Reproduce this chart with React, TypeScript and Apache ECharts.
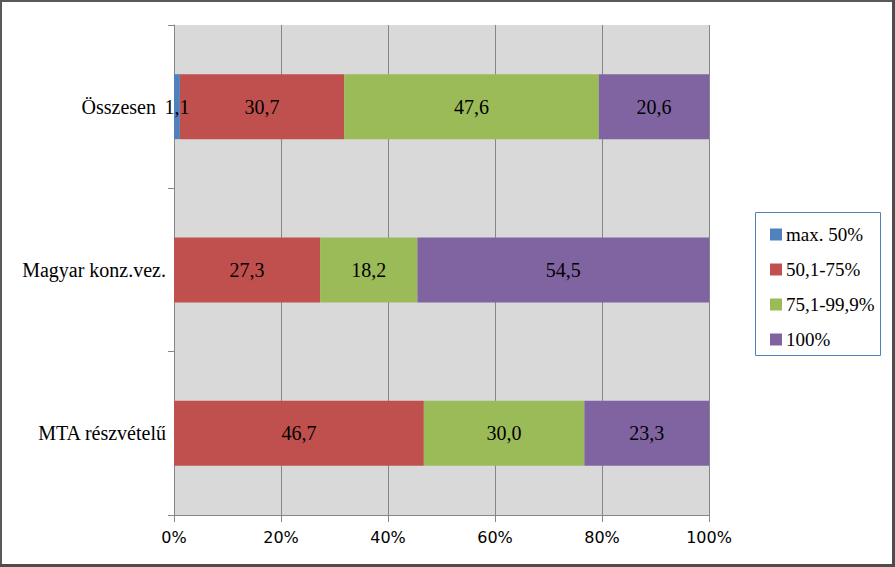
import React, { useEffect, useRef } from "react";
import * as echarts from "echarts";

const categories = ["MTA részvételű", "Magyar konz.vez.", "Összesen"];
const seriesNames = ["max. 50%", "50,1-75%", "75,1-99,9%", "100%"];
const maxFifty = [0, 0, 1.1];
const fiftyTo75 = [46.7, 27.3, 30.7];
const s75to99 = [30.0, 18.2, 47.6];
const full100 = [23.3, 54.5, 20.6];
const colors = ["#4f81bd", "#c0504d", "#9bbb59", "#8064a2"];
const xTicks = [0, 20, 40, 60, 80, 100];

const serif = "Liberation Serif";

export default function App() {
  const ref = useRef<HTMLDivElement>(null);
  useEffect(() => {
    document.body.style.margin = "0";
    const chart = echarts.init(ref.current!, null, { renderer: "svg" });
    const values = [maxFifty, fiftyTo75, s75to99, full100];
    chart.setOption({
      animation: false,
      backgroundColor: "#ffffff",
      grid: {
        left: 174,
        right: 186,
        top: 25,
        bottom: 52,
        show: true,
        backgroundColor: "#d9d9d9",
        borderWidth: 0,
      },
      xAxis: {
        type: "value",
        min: xTicks[0],
        max: xTicks[xTicks.length - 1],
        interval: 20,
        axisLine: { show: true, lineStyle: { color: "#868686", width: 1 } },
        axisTick: { show: true, length: 7, lineStyle: { color: "#868686" } },
        splitLine: { show: true, lineStyle: { color: "#868686", width: 1 } },
        axisLabel: {
          formatter: "{value}%",
          color: "#000",
          fontFamily: "DejaVu Sans",
          fontSize: 16,
          margin: 14,
        },
      },
      yAxis: {
        type: "category",
        data: categories,
        axisLine: { show: true, lineStyle: { color: "#868686", width: 1 } },
        axisTick: { show: true, length: 6, lineStyle: { color: "#868686" } },
        axisLabel: {
          color: "#000",
          fontFamily: serif,
          fontSize: 20,
          margin: 8,
          formatter: (v: string) => (v === "Összesen" ? "{a|" + v + "}" : v),
          rich: { a: { fontFamily: serif, fontSize: 20, color: "#000", padding: [0, 10, 0, 0] } },
        },
        splitLine: { show: false },
      },
      legend: {
        orient: "vertical",
        left: 765,
        top: 220,
        itemWidth: 12,
        itemHeight: 12,
        itemGap: 16,
        icon: "rect",
        data: seriesNames,
        textStyle: { fontFamily: serif, fontSize: 19, color: "#000", lineHeight: 19, padding: [0, 0, 0, -1] },
      },
      graphic: [
        { type: "rect", shape: { x: 755.5, y: 212.5, width: 125, height: 143 }, style: { fill: "none", stroke: "#4f81bd", lineWidth: 1 }, z: 10 },
        { type: "rect", shape: { x: 0, y: 0, width: 895, height: 2 }, style: { fill: "#595959" }, z: 10 },
        { type: "rect", shape: { x: 0, y: 0, width: 2, height: 567 }, style: { fill: "#595959" }, z: 10 },
        { type: "rect", shape: { x: 892, y: 0, width: 3, height: 567 }, style: { fill: "#4d4d4d" }, z: 10 },
        { type: "rect", shape: { x: 0, y: 564, width: 895, height: 3 }, style: { fill: "#4d4d4d" }, z: 10 },
      ],
      series: seriesNames.map((name, i) => ({
        name,
        type: "bar",
        stack: "total",
        barWidth: 65,
        data: values[i],
        itemStyle: { color: colors[i] },
        label: {
          show: true,
          position: "inside",
          color: "#000",
          fontFamily: serif,
          fontSize: 20,
          formatter: (p: any) => (p.value > 0 ? p.value.toFixed(1).replace(".", ",") : ""),
        },
      })),
    });
    return () => chart.dispose();
  }, []);
  return <div ref={ref} style={{ width: 895, height: 567 }} />;
}
